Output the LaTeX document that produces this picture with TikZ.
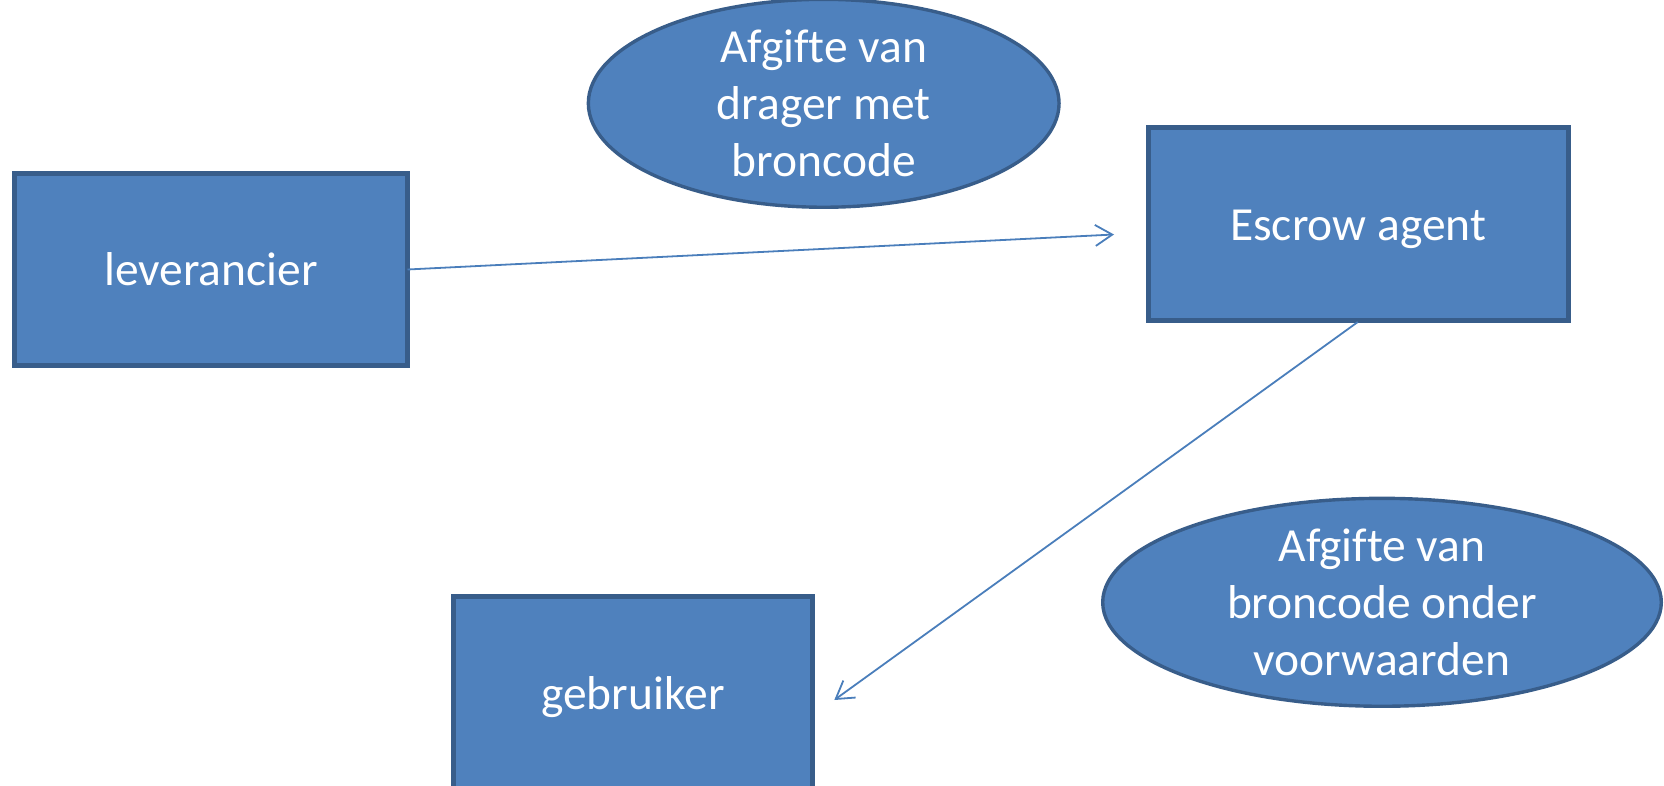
\documentclass[tikz,border=0pt]{standalone}
\usepackage{fontspec}
\setmainfont{Carlito}[Ligatures=NoCommon]
\usetikzlibrary{shapes.geometric,arrows.meta}
\definecolor{boxfill}{HTML}{4F81BD}
\definecolor{boxline}{HTML}{385D8A}
\definecolor{arrline}{HTML}{4A7EBB}
\begin{document}
\begin{tikzpicture}[x=1pt,y=-1pt,
  txt/.style={text=white,font=\fontsize{47.5}{57}\selectfont,align=center},
  box/.style={rectangle,draw=boxline,fill=boxfill,line width=5pt,inner sep=0pt,outer sep=0pt,txt},
  oval/.style={ellipse,draw=boxline,fill=boxfill,line width=3.4pt,inner sep=0pt,outer sep=0pt,txt},
  conn/.style={draw=arrline,line width=1.8pt,-{Straight Barb[length=17pt,width=21pt,line width=1.8pt]}}]
\useasboundingbox (0,0) rectangle (1664,786);
\node[box,minimum width=393pt,minimum height=192pt] (lev) at (211,269.5) {leverancier};
\node[box,minimum width=420pt,minimum height=192.7pt] (esc) at (1358.2,223.9) {\raisebox{-5pt}[\height][\depth]{Escrow agent}};
\node[box,minimum width=359.3pt,minimum height=201pt] (geb) at (632.9,697) {gebruiker};
\node[oval,minimum width=470.7pt,minimum height=193.3pt] (ov1) at (823.7,103.3) {Afgifte van\\drager met\\broncode};
\node[oval,minimum width=558.6pt,minimum height=193.3pt] (ov2) at (1382,602.3) {Afgifte van\\broncode onder\\voorwaarden};
\coordinate (e1) at (1114,234.5);
\coordinate (e2) at (834.3,700);
\draw[conn] (lev.east) -- (e1);
\draw[conn,shorten <=3pt] ([xshift=2pt]esc.south) -- (e2);
\end{tikzpicture}
\end{document}
